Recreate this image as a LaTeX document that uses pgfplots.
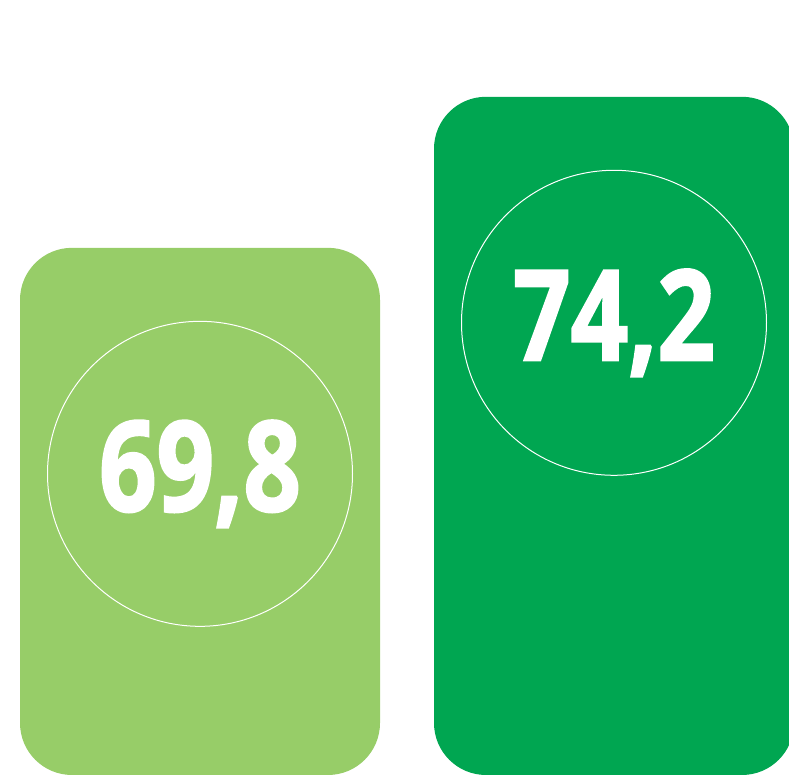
\documentclass[border=0pt]{standalone}
\usepackage{fontspec}
\usepackage{pgfplots}
\usepackage{pgfplotstable}
\pgfplotsset{compat=1.18}
\newfontfamily\numfont[FakeStretch=0.8, FakeBold=1.6]{Open Sans}
\definecolor{lightg}{HTML}{97CD68}
\definecolor{darkg}{HTML}{00A651}
\pgfplotstableread{
x v
0 69.8
}\tableA
\pgfplotstableread{
x v
1 74.2
}\tableB
\begin{document}
\begin{tikzpicture}
\begin{axis}[
  width=394.5pt, height=387.5pt, scale only axis,
  hide axis,
  xmin=-0.4831, xmax=1.4227,
  ymin=0.583, ymax=23.16,
  ybar, bar width=180pt, bar shift=0pt,
  nodes near coords,
  point meta=explicit,
  /pgf/number format/.cd, use comma, fixed, fixed zerofill, precision=1, assume math mode=true,
  /pgfplots/.cd,
  every node near coord/.style={circle, draw=white, line width=0.5pt, fill=none,
    minimum size=152.5pt, inner sep=0pt, anchor=center, yshift=-113pt,
    text=white, font=\numfont\bfseries\fontsize{63}{63}\selectfont},
]
\path[use as bounding box] (rel axis cs:0,0) rectangle (rel axis cs:1,1);
\addplot[fill=lightg, draw=none, rounded corners=26pt]
  table[x=x, y expr=\thisrow{v}-53.86, meta=v] {\tableA};
\addplot[fill=darkg, draw=none, rounded corners=26pt]
  table[x=x, y expr=\thisrow{v}-53.86, meta=v] {\tableB};
\end{axis}
\end{tikzpicture}
\end{document}
